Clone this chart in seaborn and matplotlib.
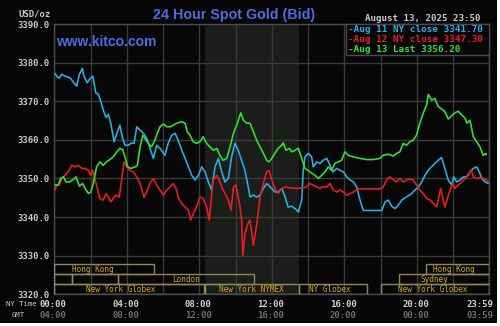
import matplotlib
matplotlib.use("Agg")
import matplotlib.pyplot as plt
import matplotlib.transforms as mtransforms
from matplotlib.patches import Rectangle
import numpy as np
import pandas as pd
import seaborn as sns

# ---------------- data ----------------
aug11_times = ["00:02", "00:10", "00:17", "00:24", "00:35", "00:46", "00:54", "01:03", "01:14", "01:23",
               "01:33", "01:38", "01:49", "01:58", "02:07", "02:11", "02:17", "02:26", "02:34", "02:42",
               "02:51", "02:59", "03:07", "03:18", "03:27", "03:37", "03:46", "03:54", "04:05", "04:16",
               "04:24", "04:33", "04:44", "04:55", "05:06", "05:17", "05:28", "05:39", "05:50", "06:06",
               "06:17", "06:29", "06:40", "06:50", "07:02", "07:13", "07:24", "07:35", "07:46", "07:57",
               "08:08", "08:19", "08:30", "08:41", "08:52", "09:03", "09:14", "09:25", "09:36", "09:47",
               "09:58", "10:09", "10:20", "10:31", "10:42", "10:48", "10:59", "11:10", "11:21", "11:32",
               "11:43", "12:00", "12:10", "12:21", "12:33", "12:44", "12:54", "13:06", "13:17", "13:28",
               "13:39", "13:44", "13:50", "14:01", "14:12", "14:17", "14:29", "14:40", "14:50", "15:02",
               "15:13", "15:22", "15:35", "15:46", "15:57", "16:08", "16:19", "16:30", "16:41", "16:52",
               "17:03", "17:25", "17:47", "18:04", "18:15", "18:26", "18:37", "18:48", "18:59", "19:10",
               "19:26", "19:43", "19:54", "20:05", "20:16", "20:27", "20:38", "20:49", "21:00", "21:11",
               "21:22", "21:33", "21:44", "21:55", "22:03", "22:12", "22:23", "22:34", "22:45", "22:56",
               "23:07", "23:18", "23:27", "23:35", "23:46", "23:57"]
aug11_prices = [3377.2, 3376.3, 3376.0, 3377.0, 3376.5, 3376.3, 3375.9, 3375.0, 3373.9, 3377.0,
                3378.5, 3376.5, 3374.8, 3375.8, 3376.5, 3375.0, 3372.2, 3371.8, 3369.9, 3367.7,
                3365.8, 3366.6, 3364.3, 3359.5, 3361.7, 3363.8, 3360.4, 3358.6, 3358.6, 3359.2,
                3359.1, 3363.4, 3362.5, 3361.7, 3360.4, 3357.8, 3355.2, 3358.6, 3357.8, 3356.0,
                3359.1, 3361.2, 3361.7, 3359.9, 3357.3, 3355.2, 3353.0, 3350.8, 3349.6, 3350.8,
                3353.0, 3351.7, 3349.1, 3347.0, 3353.0, 3355.2, 3351.7, 3349.1, 3350.0, 3355.6,
                3359.1, 3357.3, 3354.7, 3352.1, 3347.8, 3345.2, 3345.7, 3345.2, 3345.7, 3347.4,
                3348.7, 3347.4, 3346.5, 3346.5, 3347.4, 3345.2, 3342.6, 3342.8, 3342.2, 3341.3,
                3344.4, 3352.1, 3355.6, 3356.5, 3355.6, 3353.0, 3354.3, 3353.9, 3354.7, 3355.2,
                3353.4, 3351.7, 3352.6, 3352.1, 3351.7, 3350.4, 3349.6, 3349.1, 3347.8, 3344.4,
                3341.7, 3341.7, 3341.7, 3341.7, 3343.9, 3344.4, 3342.8, 3342.2, 3343.1, 3344.4,
                3345.2, 3346.1, 3347.0, 3347.7, 3349.1, 3350.8, 3352.1, 3353.0, 3353.9, 3354.7,
                3355.4, 3352.6, 3349.6, 3348.3, 3350.4, 3349.1, 3349.6, 3350.4, 3350.4, 3351.7,
                3352.6, 3353.0, 3351.7, 3350.0, 3349.1, 3348.7]

aug12_times = ["00:02", "00:08", "00:17", "00:24", "00:35", "00:46", "00:58", "01:09", "01:19", "01:31",
               "01:42", "01:53", "02:00", "02:07", "02:15", "02:24", "02:31", "02:42", "02:51", "02:59",
               "03:07", "03:15", "03:24", "03:35", "03:43", "03:51", "04:00", "04:11", "04:21", "04:33",
               "04:44", "04:57", "05:08", "05:19", "05:28", "05:39", "05:50", "06:01", "06:12", "06:23",
               "06:34", "06:43", "06:50", "07:02", "07:13", "07:24", "07:31", "07:40", "07:51", "08:02",
               "08:13", "08:24", "08:33", "08:38", "08:46", "08:58", "09:06", "09:14", "09:25", "09:36",
               "09:45", "09:53", "10:01", "10:09", "10:15", "10:20", "10:24", "10:31", "10:42", "10:48",
               "10:59", "11:10", "11:21", "11:32", "11:43", "11:51", "12:00", "12:10", "12:21", "12:33",
               "12:44", "13:00", "13:22", "13:44", "13:55", "14:04", "14:17", "14:29", "14:40", "14:50",
               "15:02", "15:13", "15:23", "15:35", "15:46", "15:57", "16:08", "16:19", "16:30", "16:41",
               "16:52", "17:14", "17:36", "17:58", "18:09", "18:20", "18:31", "18:42", "18:53", "19:04",
               "19:15", "19:26", "19:37", "19:48", "19:59", "20:10", "20:21", "20:33", "20:44", "20:55",
               "21:06", "21:11", "21:19", "21:26", "21:33", "21:41", "21:50", "21:59", "22:06", "22:17",
               "22:29", "22:40", "22:51", "23:00", "23:07", "23:18", "23:29", "23:40", "23:51", "23:59"]
aug12_prices = [3347.0, 3348.3, 3348.3, 3350.0, 3350.8, 3351.7, 3353.4, 3353.0, 3353.4, 3352.6,
                3352.6, 3352.1, 3350.8, 3352.1, 3349.6, 3347.0, 3344.8, 3344.4, 3346.1, 3345.2,
                3343.9, 3344.8, 3345.7, 3345.2, 3349.6, 3354.3, 3353.0, 3352.1, 3351.7, 3350.4,
                3348.7, 3345.1, 3347.0, 3349.1, 3350.0, 3348.3, 3347.0, 3345.7, 3347.0, 3347.8,
                3348.7, 3347.4, 3345.2, 3343.5, 3342.6, 3341.8, 3339.2, 3340.9, 3342.6, 3345.2,
                3344.8, 3342.6, 3339.2, 3343.5, 3349.6, 3350.8, 3349.6, 3347.8, 3346.1, 3344.4,
                3341.8, 3347.8, 3348.3, 3345.2, 3342.6, 3339.2, 3330.0, 3335.7, 3338.5, 3339.2,
                3332.7, 3338.0, 3345.2, 3348.7, 3351.7, 3352.1, 3349.6, 3347.4, 3346.1, 3347.4,
                3347.8, 3347.6, 3347.4, 3347.6, 3347.8, 3348.7, 3348.3, 3347.8, 3347.4, 3347.9,
                3347.8, 3348.7, 3347.0, 3346.5, 3347.0, 3346.5, 3345.7, 3346.1, 3346.5, 3347.1,
                3347.3, 3347.3, 3347.3, 3347.3, 3347.8, 3349.6, 3350.4, 3349.6, 3349.1, 3350.0,
                3349.1, 3349.6, 3349.8, 3349.6, 3348.3, 3347.0, 3346.1, 3344.8, 3344.4, 3343.5,
                3342.6, 3344.4, 3347.4, 3344.8, 3342.6, 3344.8, 3347.0, 3348.7, 3347.4, 3348.3,
                3349.1, 3350.0, 3350.8, 3352.3, 3350.4, 3350.0, 3350.2, 3350.0, 3349.6, 3349.1]

aug13_times = ["00:02", "00:13", "00:21", "00:30", "00:39", "00:50", "01:01", "01:12", "01:23", "01:34",
               "01:42", "01:53", "02:01", "02:09", "02:20", "02:31", "02:42", "02:53", "03:04", "03:15",
               "03:27", "03:37", "03:46", "03:54", "04:03", "04:14", "04:27", "04:35", "04:44", "04:53",
               "05:00", "05:11", "05:22", "05:33", "05:41", "05:50", "06:01", "06:12", "06:25", "06:34",
               "06:45", "07:02", "07:13", "07:20", "07:29", "07:40", "07:51", "08:02", "08:13", "08:24",
               "08:35", "08:46", "08:58", "09:08", "09:19", "09:31", "09:42", "09:53", "10:06", "10:17",
               "10:26", "10:37", "10:48", "10:59", "11:10", "11:21", "11:32", "11:43", "11:51", "12:00",
               "12:10", "12:21", "12:33", "12:38", "12:47", "12:58", "13:06", "13:17", "13:28", "13:39",
               "13:50", "14:06", "14:23", "14:34", "14:45", "14:56", "15:07", "15:18", "15:29", "15:40",
               "15:51", "16:02", "16:13", "16:30", "16:52", "17:14", "17:36", "17:58", "18:09", "18:26",
               "18:42", "18:53", "19:04", "19:15", "19:26", "19:37", "19:48", "19:59", "20:10", "20:21",
               "20:33", "20:38", "20:49", "21:00", "21:11", "21:22", "21:33", "21:44", "21:55", "22:06",
               "22:17", "22:29", "22:40", "22:46", "22:56", "23:07", "23:18", "23:29", "23:40", "23:49",
               "23:50"]
aug13_prices = [3348.3, 3348.3, 3350.0, 3350.4, 3349.1, 3349.1, 3349.6, 3350.4, 3348.0, 3348.7,
                3347.4, 3346.1, 3346.5, 3348.7, 3353.0, 3354.3, 3353.4, 3354.3, 3354.9, 3355.6,
                3356.9, 3357.8, 3357.5, 3355.6, 3353.0, 3352.6, 3353.0, 3353.4, 3358.2, 3361.2,
                3360.4, 3359.1, 3358.2, 3359.9, 3361.7, 3363.4, 3364.1, 3363.4, 3363.4, 3363.8,
                3364.3, 3364.7, 3364.3, 3362.1, 3361.2, 3359.5, 3359.1, 3359.5, 3360.8, 3359.1,
                3358.2, 3357.3, 3357.8, 3356.0, 3354.7, 3355.2, 3358.2, 3361.7, 3364.3, 3367.0,
                3365.1, 3364.3, 3364.3, 3362.1, 3359.9, 3358.2, 3356.5, 3354.7, 3354.3, 3355.2,
                3356.5, 3357.8, 3358.6, 3359.2, 3357.3, 3357.8, 3356.9, 3357.3, 3357.8, 3355.2,
                3352.6, 3351.7, 3350.8, 3350.0, 3350.8, 3351.7, 3353.0, 3352.1, 3353.9, 3354.3,
                3354.7, 3356.9, 3356.0, 3355.6, 3355.2, 3354.9, 3354.9, 3355.2, 3356.0, 3356.3,
                3355.8, 3356.5, 3356.9, 3359.1, 3358.6, 3359.5, 3359.9, 3361.2, 3364.3, 3366.8,
                3369.2, 3371.8, 3370.3, 3370.7, 3368.6, 3368.0, 3367.3, 3365.4, 3366.2, 3367.0,
                3367.4, 3366.4, 3365.6, 3364.3, 3365.1, 3360.8, 3359.5, 3358.2, 3356.0, 3356.5,
                3356.2]

series_names = ["Aug 11", "Aug 12", "Aug 13"]
series_colors = ["#22b4e6", "#f01c1c", "#2ee62e"]
legend_labels = ["Aug 11 NY close 3341.70", "Aug 12 NY close 3347.30", "Aug 13 Last 3356.20"]

price_ticks = [3320, 3330, 3340, 3350, 3360, 3370, 3380, 3390]
time_tick_hours = [0, 4, 8, 12, 16, 20, 24]
ny_time_labels = ["00:00", "04:00", "08:00", "12:00", "16:00", "20:00", "23:59"]
gmt_labels = ["04:00", "08:00", "12:00", "16:00", "20:00", "00:00", "03:59"]

# market sessions: row 0 = bottom strip, 2 = top strip
session_names = ["Hong Kong", "Hong Kong", "", "", "London", "Sydney",
                 "New York Globex", "New York NYMEX", "NY Globex", "New York Globex"]
session_rows = [2, 2, 1, 1, 1, 1, 0, 0, 0, 0]
session_start = [0.0, 20.5, 0.0, 1.0, 3.5, 19.0, 0.0, 8.33, 13.5, 18.0]
session_end = [5.5, 24.0, 1.0, 3.5, 11.0, 24.0, 8.25, 13.5, 17.25, 24.0]
session_label_at = [2.15, 22.05, 0.5, 2.25, 7.25, 20.98, 3.68, 10.9, 15.2, 20.87]

nymex_open, nymex_close = 8.33, 13.5


def to_hours(stamps):
    return [int(s[:2]) + int(s[3:]) / 60 for s in stamps]


frames = []
for name, t, p in [("Aug 11", aug11_times, aug11_prices),
                   ("Aug 12", aug12_times, aug12_prices),
                   ("Aug 13", aug13_times, aug13_prices)]:
    frames.append(pd.DataFrame({"hour": to_hours(t), "price": p, "day": name}))
df = pd.concat(frames, ignore_index=True)

# ---------------- styling ----------------
sns.set_style("dark")
plt.rcParams["font.family"] = ["DejaVu Sans Mono"]

W, H = 500, 326
fig = plt.figure(figsize=(W / 100, H / 100), dpi=100, facecolor="white")


def fx(px):
    return px / W


def fy(py):
    return 1 - py / H


# black card with thin white margin on right/bottom
fig.patches.append(Rectangle((0, fy(323)), fx(497), 1 - fy(323), transform=fig.transFigure,
                             facecolor="#060606", edgecolor="none", zorder=-10))

left, right, top, bottom = 54.3, 489.3, 24.0, 294.3
ax = fig.add_axes([fx(left), fy(bottom), fx(right - left), fy(top) - fy(bottom)])
ax.set_facecolor("#070707")

ax.axvspan(nymex_open, nymex_close, color="#1b1d1a", zorder=0, lw=0)

sns.lineplot(data=df, x="hour", y="price", hue="day", palette=dict(zip(series_names, series_colors)),
             estimator=None, sort=False, legend=False, linewidth=1.15, ax=ax, zorder=3)

ax.set_xlim(0, 24)
ax.set_ylim(3320, 3390)
ax.set_xticks(np.arange(0, 25, 2))
ax.set_xticklabels([])
ax.set_yticks(price_ticks)
ax.set_yticklabels([f"{v:.1f}" for v in price_ticks], fontsize=6.5, fontweight="bold", color="#c8c8c8")
ax.tick_params(axis="both", length=0, pad=3)
ax.set_xlabel("")
ax.set_ylabel("")
ax.grid(True, color="#3a3a3a", linewidth=1.0)
ax.set_axisbelow(True)
for s in ax.spines.values():
    s.set_visible(True)
    s.set_color("#4a4a4a")
    s.set_linewidth(1.0)

# session strips along the bottom
blend = mtransforms.blended_transform_factory(ax.transData, ax.transAxes)
row_h = 10 / (bottom - top)
for name, r, a, b, lab in zip(session_names, session_rows, session_start, session_end, session_label_at):
    ax.add_patch(Rectangle((a, r * row_h), b - a, row_h, transform=blend, facecolor="none",
                           edgecolor="#8a8960", linewidth=1.0, zorder=4))
    if name:
        ax.text(lab, (r + 0.5) * row_h, name, transform=blend, ha="center", va="center",
                fontsize=5.6, color="#d8aa10", zorder=5)

# titles
fig.text(fx(234), fy(15.5), "24 Hour Spot Gold (Bid)", ha="center", va="center",
         fontsize=10.3, fontweight="bold", color="#4a6fe3", family="Liberation Sans")
fig.text(fx(56.5), fy(41.8), "www.kitco.com", ha="left", va="center",
         fontsize=10, fontweight="bold", color="#4a6fe3", family="Liberation Sans")
fig.text(fx(365), fy(18.3), "August 13, 2025 23:50", ha="left", va="center",
         fontsize=6.6, fontweight="bold", color="#c8c8c8")
fig.text(fx(50.5), fy(14), "USD/oz", ha="right", va="center",
         fontsize=6.5, fontweight="bold", color="#c8c8c8")

# legend panel
lx0, lx1, ly0, ly1 = 345.7, 489.3, 24.0, 55.0
fig.patches.append(Rectangle((fx(lx0), fy(ly1)), fx(lx1 - lx0), fy(ly0) - fy(ly1), transform=fig.transFigure,
                             facecolor="#070707", edgecolor="#4a4a4a", linewidth=1.0, zorder=5))
for i, (lab, col) in enumerate(zip(legend_labels, series_colors)):
    fig.text(fx(348.5), fy(30 + 9.9 * i), "-" + lab, ha="left", va="center",
             fontsize=6.7, fontweight="bold", color=col, zorder=6)

# time axis labels
fig.text(fx(37), fy(304.5), "NY Time", ha="right", va="center", fontsize=5.2,
         color="#c8c8c8")
fig.text(fx(18.5), fy(315), "GMT", ha="center", va="center", fontsize=5.2,
         color="#c8c8c8")
xt = mtransforms.blended_transform_factory(ax.transData, fig.transFigure)
for h, ny, gmt in zip(time_tick_hours, ny_time_labels, gmt_labels):
    if h == 24:
        off = mtransforms.offset_copy(xt, fig=fig, x=4, y=0, units="dots")
        ha = "right"
    else:
        off = mtransforms.offset_copy(xt, fig=fig, x=-1, y=0, units="dots")
        ha = "center"
    ax.text(h, fy(304.5), ny, transform=off, ha=ha, va="center", fontsize=6.5,
            fontweight="bold", color="#d0d0d0", clip_on=False)
    ax.text(h, fy(315), gmt, transform=off, ha=ha, va="center", fontsize=6.5,
            fontweight="bold", color="#6c6c6c", clip_on=False)

fig.savefig("out.png", dpi=100, facecolor=fig.get_facecolor())
